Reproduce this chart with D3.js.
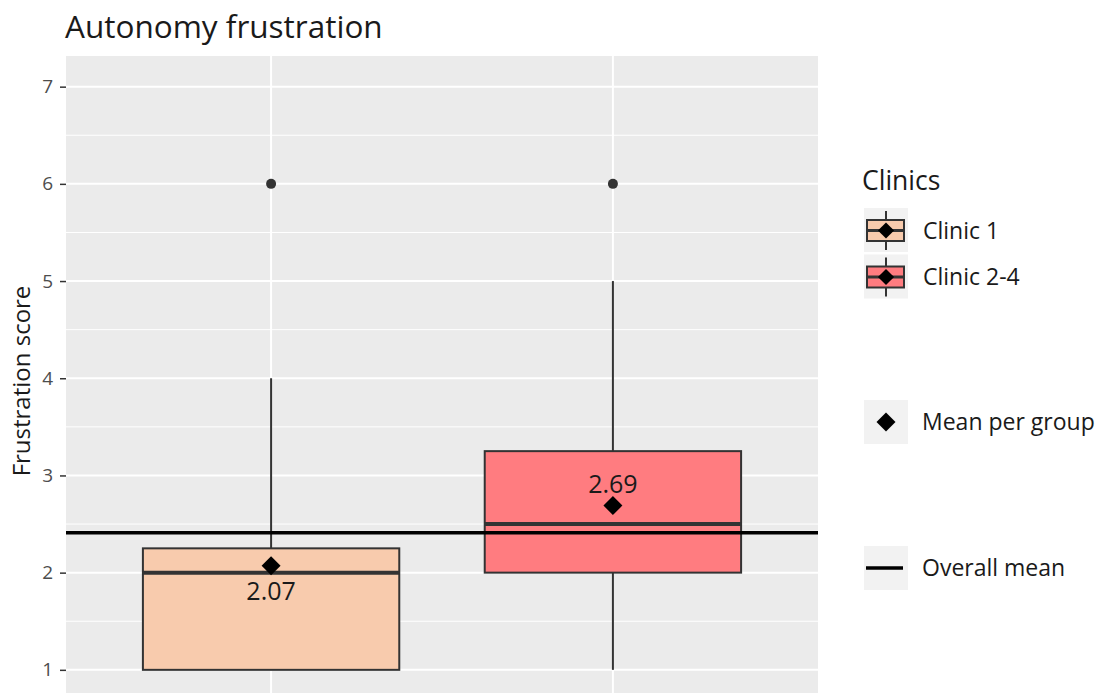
<!DOCTYPE html>
<html>
<head>
<meta charset="utf-8">
<script src="https://cdn.jsdelivr.net/npm/d3@7"></script>
<style>
  body { margin: 0; background: #fff; }
  text { font-family: "Open Sans", "Noto Sans", sans-serif; }
</style>
</head>
<body>
<div id="chartArea"></div>
<script>
// boxplot - autonomy frustration per clinic group

// data
var groups = ["Clinic 1", "Clinic 2-4"];
var lowWhisker = [1, 1];
var q1 = [1, 2];
var medians = [2, 2.5];
var q3 = [2.25, 3.25];
var highWhisker = [4, 5];
var outliers = [[6], [6]];
var means = [2.07, 2.69];
var meanLabels = ["2.07", "2.69"];
var labelBelow = [true, false];
var overallMean = 2.41;
var yTicks = [1, 2, 3, 4, 5, 6, 7];
var yMinor = [1.5, 2.5, 3.5, 4.5, 5.5, 6.5];

(function() {

    var width = 1099, height = 693;
    var left = 66, right = 818, top = 56, bottom = 699;

    var svg = d3.select("#chartArea").append("svg")
        .attr("width", width)
        .attr("height", height);

    // scales
    var x = d3.scaleBand()
        .domain(groups)
        .range([left, right])
        .paddingInner(0.25)
        .paddingOuter(0.225);
    var y = d3.scaleLinear()
        .domain([0.7, 7.3])
        .range([bottom, top + 1.5]);
    var fill = d3.scaleOrdinal()
        .domain(groups)
        .range(["#F8CBAD", "#FF7C80"]);

    // panel background + grid
    svg.append("rect")
        .attr("x", left).attr("y", top)
        .attr("width", right - left).attr("height", bottom - top)
        .attr("fill", "#EBEBEB");

    svg.selectAll(".minor")
        .data(yMinor)
        .enter().append("line")
        .attr("x1", left).attr("x2", right)
        .attr("y1", function(d) { return y(d); })
        .attr("y2", function(d) { return y(d); })
        .attr("stroke", "#fff").attr("stroke-width", 1);

    svg.selectAll(".major")
        .data(yTicks)
        .enter().append("line")
        .attr("x1", left).attr("x2", right)
        .attr("y1", function(d) { return y(d); })
        .attr("y2", function(d) { return y(d); })
        .attr("stroke", "#fff").attr("stroke-width", 2);

    svg.selectAll(".vgrid")
        .data(groups)
        .enter().append("line")
        .attr("x1", function(d) { return x(d) + x.bandwidth() / 2; })
        .attr("x2", function(d) { return x(d) + x.bandwidth() / 2; })
        .attr("y1", top).attr("y2", bottom)
        .attr("stroke", "#fff").attr("stroke-width", 2);

    // y axis
    var yAxis = svg.append("g")
        .attr("transform", "translate(" + left + ",0)")
        .call(d3.axisLeft(y).tickValues(yTicks).tickFormat(d3.format("d")).tickSize(6).tickPadding(7));
    yAxis.attr("font-size", null).attr("font-family", null);
    yAxis.select(".domain").remove();
    yAxis.selectAll(".tick line").attr("stroke", "#333").attr("stroke-width", 1.5);
    yAxis.selectAll(".tick text")
        .attr("fill", "#4D4D4D")
        .attr("font-size", "19px");

    svg.append("text")
        .attr("transform", "translate(30,381)rotate(-90)")
        .attr("text-anchor", "middle")
        .attr("font-size", "24px")
        .attr("fill", "#1a1a1a")
        .text("Frustration score");

    // title
    svg.append("text")
        .attr("x", 65).attr("y", 38)
        .attr("font-size", "31.5px")
        .attr("fill", "#1a1a1a")
        .text("Autonomy frustration");

    // boxes
    var box = svg.selectAll(".box")
        .data(groups)
        .enter().append("g")
        .attr("class", "box");

    var cx = function(i) { return x(groups[i]) + x.bandwidth() / 2; };

    box.append("line")
        .attr("x1", function(d, i) { return cx(i); })
        .attr("x2", function(d, i) { return cx(i); })
        .attr("y1", function(d, i) { return y(highWhisker[i]); })
        .attr("y2", function(d, i) { return y(q3[i]); })
        .attr("stroke", "#333").attr("stroke-width", 2);
    box.append("line")
        .attr("x1", function(d, i) { return cx(i); })
        .attr("x2", function(d, i) { return cx(i); })
        .attr("y1", function(d, i) { return y(q1[i]); })
        .attr("y2", function(d, i) { return y(lowWhisker[i]); })
        .attr("stroke", "#333").attr("stroke-width", 2);

    box.append("rect")
        .attr("x", function(d) { return x(d); })
        .attr("width", x.bandwidth())
        .attr("y", function(d, i) { return y(q3[i]); })
        .attr("height", function(d, i) { return y(q1[i]) - y(q3[i]); })
        .attr("fill", function(d) { return fill(d); })
        .attr("stroke", "#333").attr("stroke-width", 2);

    box.append("line")
        .attr("x1", function(d) { return x(d); })
        .attr("x2", function(d) { return x(d) + x.bandwidth(); })
        .attr("y1", function(d, i) { return y(medians[i]); })
        .attr("y2", function(d, i) { return y(medians[i]); })
        .attr("stroke", "#333").attr("stroke-width", 4);

    box.each(function(d, i) {
        d3.select(this).selectAll("circle")
            .data(outliers[i])
            .enter().append("circle")
            .attr("cx", cx(i))
            .attr("cy", function(v) { return y(v); })
            .attr("r", 5)
            .attr("fill", "#333");
    });

    // overall mean line
    svg.append("line")
        .attr("x1", left).attr("x2", right)
        .attr("y1", y(overallMean)).attr("y2", y(overallMean))
        .attr("stroke", "#000").attr("stroke-width", 3.5);

    // group means
    var diamond = d3.symbol().type(d3.symbolSquare).size(180);
    box.append("path")
        .attr("d", diamond)
        .attr("transform", function(d, i) {
            return "translate(" + cx(i) + "," + y(means[i]) + ")rotate(45)";
        })
        .attr("fill", "#000");

    box.append("text")
        .attr("x", function(d, i) { return cx(i); })
        .attr("y", function(d, i) { return labelBelow[i] ? y(means[i]) + 34 : y(means[i]) - 13; })
        .attr("text-anchor", "middle")
        .attr("font-size", "25px")
        .attr("fill", "#1a1a1a")
        .text(function(d, i) { return meanLabels[i]; });

    // legend
    var lx = 864, key = 44;
    svg.append("text")
        .attr("x", 862).attr("y", 190)
        .attr("font-size", "26.5px")
        .attr("fill", "#1a1a1a")
        .text("Clinics");

    var leg = svg.selectAll(".leg")
        .data(groups)
        .enter().append("g")
        .attr("transform", function(d, i) { return "translate(" + lx + "," + (208 + i * 46.5) + ")"; });
    leg.append("rect")
        .attr("width", key).attr("height", key)
        .attr("fill", "#F2F2F2");
    leg.append("line")
        .attr("x1", key / 2).attr("x2", key / 2)
        .attr("y1", 3).attr("y2", key - 2)
        .attr("stroke", "#333").attr("stroke-width", 2);
    leg.append("rect")
        .attr("x", 3).attr("y", 12)
        .attr("width", 37).attr("height", 21)
        .attr("fill", function(d) { return fill(d); })
        .attr("stroke", "#333").attr("stroke-width", 2);
    leg.append("line")
        .attr("x1", 3).attr("x2", 40)
        .attr("y1", 22.5).attr("y2", 22.5)
        .attr("stroke", "#333").attr("stroke-width", 3);
    leg.append("path")
        .attr("d", d3.symbol().type(d3.symbolSquare).size(130))
        .attr("transform", "translate(" + (key / 2) + ",22.5)rotate(45)")
        .attr("fill", "#000");
    leg.append("text")
        .attr("x", 59).attr("y", 22.5)
        .attr("dy", "0.36em")
        .attr("font-size", "23px")
        .attr("fill", "#1a1a1a")
        .text(function(d) { return d; });

    // mean per group key
    var k1 = svg.append("g").attr("transform", "translate(" + lx + ",400)");
    k1.append("rect").attr("width", key).attr("height", key).attr("fill", "#F2F2F2");
    k1.append("path")
        .attr("d", d3.symbol().type(d3.symbolSquare).size(180))
        .attr("transform", "translate(" + (key / 2) + "," + (key / 2) + ")rotate(45)")
        .attr("fill", "#000");
    k1.append("text")
        .attr("x", 58).attr("y", key / 2).attr("dy", "0.36em")
        .attr("font-size", "23px").attr("fill", "#1a1a1a")
        .text("Mean per group");

    // overall mean key
    var k2 = svg.append("g").attr("transform", "translate(" + lx + ",546)");
    k2.append("rect").attr("width", key).attr("height", key).attr("fill", "#F2F2F2");
    k2.append("line")
        .attr("x1", 2).attr("x2", 39)
        .attr("y1", key / 2).attr("y2", key / 2)
        .attr("stroke", "#000").attr("stroke-width", 3.5);
    k2.append("text")
        .attr("x", 58).attr("y", key / 2).attr("dy", "0.36em")
        .attr("font-size", "23px").attr("fill", "#1a1a1a")
        .text("Overall mean");

})()
</script>
</body>
</html>
